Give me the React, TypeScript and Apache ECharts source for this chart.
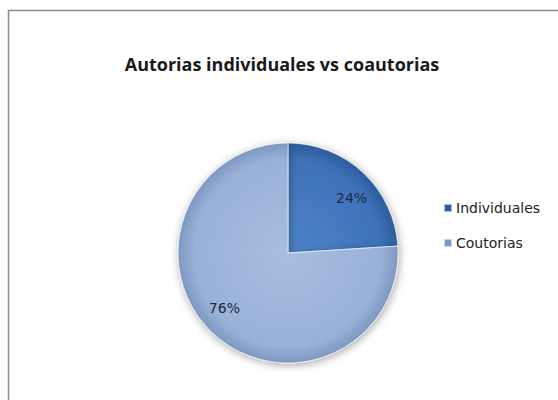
import React, { useEffect, useRef } from "react";
import * as echarts from "echarts";

const titleText = "Autorias individuales vs coautorias";
const categories = ["Individuales", "Coutorias"];
const values = [24, 76];
const sliceColors = [
  ["#4f84c9", "#3e72b8", "#2d5c9c"],
  ["#a7bee0", "#98b1d8", "#7f98c2"],
];

export default function App() {
  const ref = useRef<HTMLDivElement>(null);
  useEffect(() => {
    if (!ref.current) return;
    const chart = echarts.init(ref.current, null, { renderer: "svg" });
    const cx = 288;
    const cy = 253;
    const r = 110;
    const data = categories.map((name, i) => ({
      name,
      value: values[i],
      itemStyle: {
        color: {
          type: "radial",
          x: cx,
          y: cy,
          r: r,
          global: true,
          colorStops: [
            { offset: 0, color: sliceColors[i][0] },
            { offset: 0.85, color: sliceColors[i][1] },
            { offset: 1, color: sliceColors[i][2] },
          ],
        },
      },
    }));
    chart.setOption({
      animation: false,
      backgroundColor: "#ffffff",
      title: {
        text: titleText,
        left: 277,
        textAlign: "center",
        top: 50,
        textStyle: {
          fontFamily: "Open Sans",
          fontWeight: "bold",
          fontSize: 18,
          color: "#1a1a1a",
        },
      },
      legend: {
        orient: "vertical",
        left: 438,
        top: 196,
        itemGap: 21,
        itemWidth: 8,
        itemHeight: 8,
        icon: "rect",
        data: categories,
        textStyle: {
          fontFamily: "DejaVu Sans",
          fontSize: 14,
          color: "#222",
          padding: [0, 0, 0, -1],
        },
      },
      graphic: [
        {
          type: "polyline",
          shape: { points: [[8.5, 400], [8.5, 10.5], [558, 10.5]] },
          style: { stroke: "#8a8a8a", lineWidth: 1.5, fill: "none" },
          silent: true,
        },
      ],
      series: [
        {
          type: "pie",
          center: [cx, cy],
          radius: [0, r],
          startAngle: 90,
          clockwise: true,
          data,
          label: { show: false },
          labelLine: { show: false },
          itemStyle: {
            borderColor: "rgba(255,255,255,0.6)",
            borderWidth: 1,
            shadowBlur: 8,
            shadowColor: "rgba(0,0,0,0.35)",
            shadowOffsetX: 1,
            shadowOffsetY: 2,
          },
          emphasis: { disabled: true },
        },
        {
          type: "pie",
          center: [cx, cy],
          radius: [0, 162],
          startAngle: 84,
          clockwise: true,
          silent: true,
          data: categories.map((name, i) => ({ name, value: values[i] })),
          itemStyle: { color: "rgba(0,0,0,0)" },
          label: {
            show: true,
            position: "inside",
            formatter: "{c}%",
            fontFamily: "DejaVu Sans",
            fontSize: 14,
            color: "#1c2a45",
          },
          labelLine: { show: false },
          emphasis: { disabled: true },
        },
      ],
    });
    return () => chart.dispose();
  }, []);
  return (
    <div
      ref={ref}
      style={{ position: "fixed", left: 0, top: 0, width: 558, height: 400 }}
    />
  );
}
